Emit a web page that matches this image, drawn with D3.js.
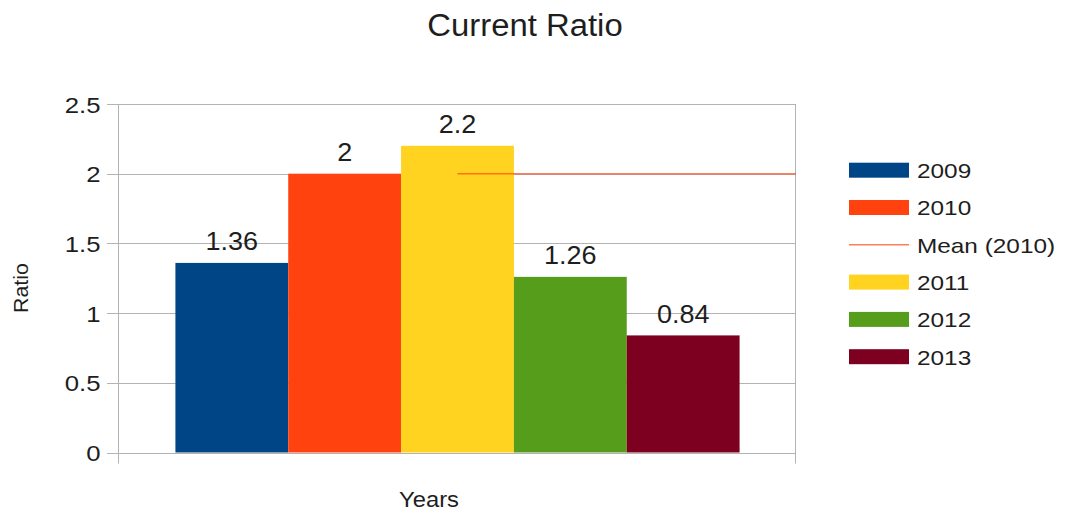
<!DOCTYPE html>
<html>
<head>
<meta charset="utf-8">
<script src="https://cdn.jsdelivr.net/npm/d3@7"></script>
<style>
  html, body { margin: 0; padding: 0; background: #fff; }
  svg { display: block; }
  text { font-family: "Liberation Sans", Arial, sans-serif; fill: #1e1e1e; }
</style>
</head>
<body>
<svg id="chart" width="1066" height="513"></svg>
<script>
// Chart data
const categories = ["Years"];
const seriesNames = ["2009", "2010", "2011", "2012", "2013"];
const seriesValues = [1.36, 2, 2.2, 1.26, 0.84];
const seriesColors = ["#004586", "#ff420e", "#ffd320", "#579d1c", "#7e0021"];
const meanName = "Mean (2010)";
const meanValue = 2;
const yTicks = [0, 0.5, 1, 1.5, 2, 2.5];

const svg = d3.select("#chart");
const W = 1066, H = 513;
const plot = { left: 119, right: 796, top: 104, bottom: 452.5 };

// Text helper: text placed at (x, y) with horizontal stretch sx
function label(parent, x, y, str, size, sx, anchor, rotate) {
  const g = parent.append("g")
    .attr("transform", `translate(${x},${y})` + (rotate ? ` rotate(${rotate})` : "") + ` scale(${sx},1)`);
  g.append("text")
    .attr("text-anchor", anchor || "start")
    .attr("font-size", size)
    .text(str);
  return g;
}

const y = d3.scaleLinear().domain([0, 2.5]).range([plot.bottom, plot.top]);
const x0 = d3.scaleBand().domain(categories).range([plot.left, plot.right]).padding(0);
const x1 = d3.scaleBand().domain(seriesNames).range([0, x0.bandwidth()])
  .paddingInner(0).paddingOuter(0.5);

// Grid lines with tick stubs on the left
const grid = svg.append("g");
grid.selectAll("line.grid").data(yTicks).join("line")
  .attr("x1", plot.left - 12).attr("x2", plot.right)
  .attr("y1", d => Math.round(y(d)) + 0.5).attr("y2", d => Math.round(y(d)) + 0.5)
  .attr("stroke", "#b3b3b3").attr("stroke-width", 1);

// Vertical frame lines at the band edges, extending below the baseline
[plot.left, plot.right].forEach(xx => {
  grid.append("line")
    .attr("x1", xx - 0.5).attr("x2", xx - 0.5)
    .attr("y1", plot.top).attr("y2", plot.bottom + 11)
    .attr("stroke", "#b3b3b3").attr("stroke-width", 1);
});

// Y tick labels
yTicks.forEach(t => {
  label(svg, 100.5, y(t) + 8.5, d3.format("")(t), 22, 1.17, "end");
});

// Bars
const catG = svg.append("g").attr("transform", `translate(${x0(categories[0])},0)`);
const rows = seriesNames.map((n, i) => ({ name: n, value: seriesValues[i], color: seriesColors[i] }));
catG.selectAll("rect").data(rows).join("rect")
  .attr("x", d => x1(d.name))
  .attr("width", x1.bandwidth())
  .attr("y", d => y(d.value))
  .attr("height", d => y(0) - y(d.value))
  .attr("fill", d => d.color);

// Value labels above bars
rows.forEach(d => {
  label(svg, x0(categories[0]) + x1(d.name) + x1.bandwidth() / 2, y(d.value) - 12.5,
    String(d.value), 25, 1.08, "middle");
});

// Mean line for the 2010 series
const meanColor = "#ff420e";
svg.append("line")
  .attr("x1", x0(categories[0]) + x0.bandwidth() / 2)
  .attr("x2", plot.right)
  .attr("y1", y(meanValue)).attr("y2", y(meanValue))
  .attr("stroke", meanColor).attr("stroke-opacity", 0.68).attr("stroke-width", 1.5);

// Title and axis titles
label(svg, 525, 36, "Current Ratio", 31, 1.06, "middle");
label(svg, 429, 506.5, "Years", 22, 1.08, "middle");
label(svg, 27.5, 288, "Ratio", 20, 1.07, "middle", -90);

// Legend
const legendItems = [
  { name: seriesNames[0], color: seriesColors[0], type: "box" },
  { name: seriesNames[1], color: seriesColors[1], type: "box" },
  { name: meanName, color: meanColor, type: "line" },
  { name: seriesNames[2], color: seriesColors[2], type: "box" },
  { name: seriesNames[3], color: seriesColors[3], type: "box" },
  { name: seriesNames[4], color: seriesColors[4], type: "box" }
];
const legend = svg.append("g");
legendItems.forEach((d, i) => {
  const cy = 170.2 + i * 37.3;
  if (d.type === "box") {
    legend.append("rect")
      .attr("x", 849).attr("y", cy - 7.5).attr("width", 60).attr("height", 15)
      .attr("fill", d.color);
  } else {
    legend.append("line")
      .attr("x1", 849).attr("x2", 909).attr("y1", cy).attr("y2", cy)
      .attr("stroke", d.color).attr("stroke-opacity", 0.68).attr("stroke-width", 1.5);
  }
  label(legend, 917, cy + 7.8, d.name, 21, 1.16, "start");
});
</script>
</body>
</html>
